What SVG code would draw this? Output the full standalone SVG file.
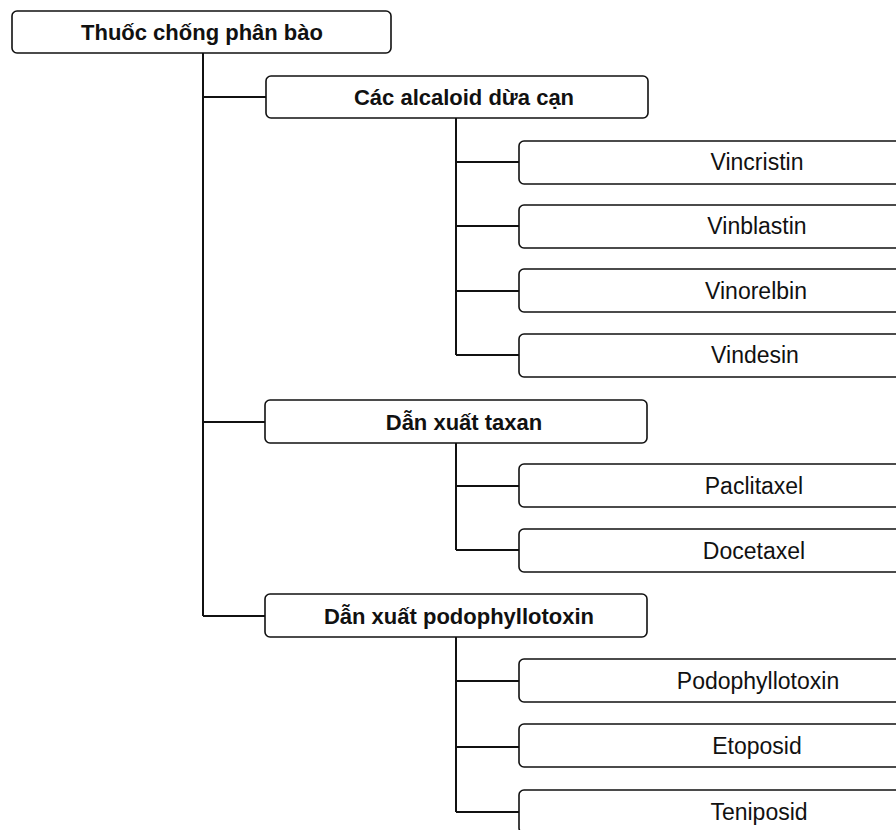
<svg xmlns="http://www.w3.org/2000/svg" width="896" height="830" viewBox="0 0 896 830">
<style>
.box{fill:#ffffff;stroke:#111111;stroke-width:1.6}
.ln{fill:none;stroke:#111111;stroke-width:2}
.b{font-family:"Liberation Sans",Arial,sans-serif;font-weight:bold;font-size:22px;fill:#111111;text-anchor:middle}
.r{font-family:"Liberation Sans",Arial,sans-serif;font-size:23px;fill:#111111;text-anchor:middle}
</style>
<rect x="0" y="0" width="896" height="830" fill="#ffffff"/>
<g id="connectors">
<path class="ln" d="M203 53V616M203 97H266M203 422H265M203 616H265"/>
<path class="ln" d="M456 118V355M456 162H519M456 226H519M456 291H519M456 355H519"/>
<path class="ln" d="M456 443V550M456 486H519M456 550H519"/>
<path class="ln" d="M456 637V812M456 681H519M456 747H519M456 812H519"/>
</g>
<g id="root"><rect class="box" x="12" y="11" width="379" height="42" rx="5"/><text class="b" x="202" y="40">Thuốc chống phân bào</text></g>
<g id="alcaloid"><rect class="box" x="266" y="76" width="382" height="42" rx="5"/><text class="b" x="464" y="105">Các alcaloid dừa cạn</text></g>
<g id="taxan"><rect class="box" x="265" y="400" width="382" height="43" rx="5"/><text class="b" x="464" y="430">Dẫn xuất taxan</text></g>
<g id="podo"><rect class="box" x="265" y="594" width="382" height="43" rx="5"/><text class="b" x="459" y="624">Dẫn xuất podophyllotoxin</text></g>
<g id="vincristin"><rect class="box" x="519" y="141" width="474" height="43" rx="5"/><text class="r" x="757" y="170">Vincristin</text></g>
<g id="vinblastin"><rect class="box" x="519" y="205" width="474" height="43" rx="5"/><text class="r" x="757" y="234">Vinblastin</text></g>
<g id="vinorelbin"><rect class="box" x="519" y="269" width="474" height="43" rx="5"/><text class="r" x="756" y="299">Vinorelbin</text></g>
<g id="vindesin"><rect class="box" x="519" y="334" width="474" height="43" rx="5"/><text class="r" x="755" y="363">Vindesin</text></g>
<g id="paclitaxel"><rect class="box" x="519" y="464" width="474" height="43" rx="5"/><text class="r" x="754" y="494">Paclitaxel</text></g>
<g id="docetaxel"><rect class="box" x="519" y="529" width="474" height="43" rx="5"/><text class="r" x="754" y="559">Docetaxel</text></g>
<g id="podophyllotoxin"><rect class="box" x="519" y="659" width="474" height="43" rx="5"/><text class="r" x="758" y="689">Podophyllotoxin</text></g>
<g id="etoposid"><rect class="box" x="519" y="724" width="474" height="43" rx="5"/><text class="r" x="757" y="754">Etoposid</text></g>
<g id="teniposid"><rect class="box" x="519" y="790" width="474" height="43" rx="5"/><text class="r" x="759" y="820">Teniposid</text></g>
</svg>
